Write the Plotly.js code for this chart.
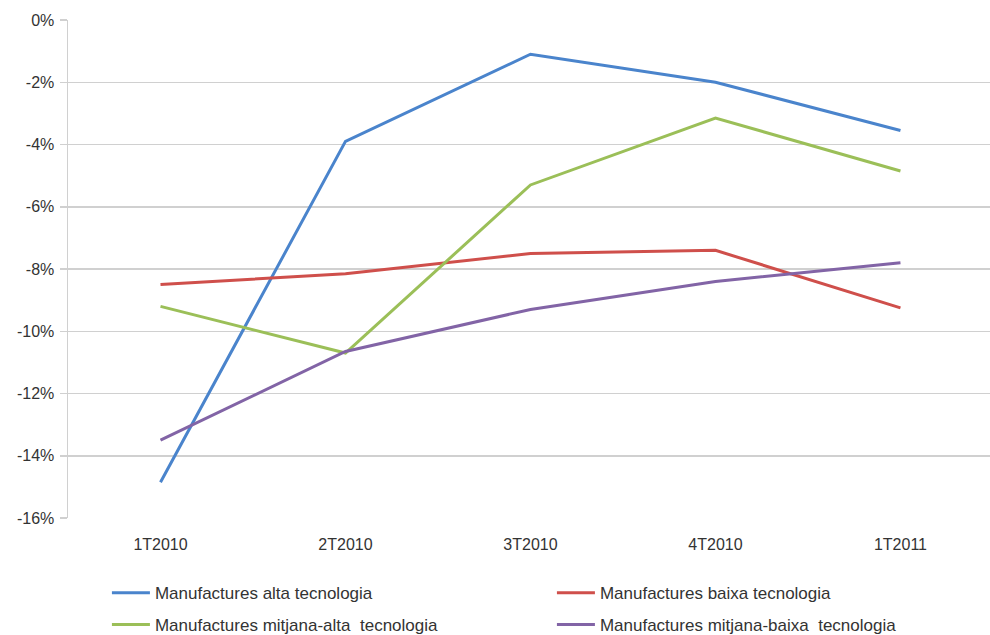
<!DOCTYPE html>
<html>
<head>
<meta charset="utf-8">
<script src="https://cdn.plot.ly/plotly-3.0.1.min.js"></script>
<style>
  html, body { margin: 0; padding: 0; background: #ffffff; }
  #chart { width: 990px; height: 635px; }
</style>
</head>
<body>
<div id="chart"></div>
<script>
// Quarterly change (%) by manufacturing technology level
const quarters = ['1T2010', '2T2010', '3T2010', '4T2010', '1T2011'];

const altaName = 'Manufactures alta tecnologia';
const baixaName = 'Manufactures baixa tecnologia';
const mitjanaAltaName = 'Manufactures mitjana-alta  tecnologia';
const mitjanaBaixaName = 'Manufactures mitjana-baixa  tecnologia';

const alta = [-14.85, -3.9, -1.1, -2.0, -3.55];
const baixa = [-8.5, -8.15, -7.5, -7.4, -9.25];
const mitjanaAlta = [-9.2, -10.7, -5.3, -3.15, -4.85];
const mitjanaBaixa = [-13.5, -10.65, -9.3, -8.4, -7.8];

const yTicks = [0, -2, -4, -6, -8, -10, -12, -14, -16];
const yTickText = yTicks.map(v => v + '%');

const fontFamily = '"Liberation Sans", Arial, sans-serif';
const textColor = '#333333';
const gridColor = '#d0d0d0';

function series(name, values, color, legendId) {
  return {
    type: 'scatter',
    mode: 'lines',
    name: name,
    x: quarters,
    y: values,
    line: { color: color, width: 3 },
    legend: legendId,
    hoverinfo: 'x+y+name'
  };
}

const traces = [
  series(altaName, alta, '#4a84cc', 'legend'),
  series(baixaName, baixa, '#cf4f4b', 'legend'),
  series(mitjanaAltaName, mitjanaAlta, '#9bbf58', 'legend2'),
  series(mitjanaBaixaName, mitjanaBaixa, '#8264a6', 'legend2')
];

// Two single-row legends laid out as a 2x2 grid under the plot
const legendStyle = {
  orientation: 'h',
  xref: 'container',
  yref: 'container',
  x: 0.108,
  xanchor: 'left',
  yanchor: 'middle',
  entrywidth: 392,
  entrywidthmode: 'pixels',
  itemwidth: 38,
  font: { family: fontFamily, size: 17, color: textColor },
  bgcolor: 'rgba(0,0,0,0)',
  itemclick: false,
  itemdoubleclick: false
};

const layout = {
  width: 990,
  height: 635,
  margin: { l: 68, r: 0, t: 20, b: 117 },
  paper_bgcolor: '#ffffff',
  plot_bgcolor: '#ffffff',
  font: { family: fontFamily, size: 16, color: textColor },
  showlegend: true,
  legend: Object.assign({}, legendStyle, { y: 0.066 }),
  legend2: Object.assign({}, legendStyle, { y: 0.016 }),
  xaxis: {
    type: 'category',
    range: [-0.5, 4.484],
    showgrid: false,
    zeroline: false,
    showline: false,
    ticks: '',
    ticklabelstandoff: 15,
    tickfont: { family: fontFamily, size: 16, color: textColor },
    fixedrange: true
  },
  xaxis2: {
    overlaying: 'x',
    anchor: 'y',
    side: 'top',
    type: 'linear',
    range: [-0.5, 4.484],
    tickvals: [0.5, 1.5, 2.5, 3.5],
    showticklabels: false,
    ticks: 'inside',
    ticklen: 6,
    tickwidth: 1.5,
    tickcolor: gridColor,
    showgrid: false,
    zeroline: false,
    showline: false,
    fixedrange: true
  },
  yaxis: {
    range: [-16, 0],
    tickvals: yTicks,
    ticktext: yTickText,
    showgrid: true,
    gridcolor: gridColor,
    gridwidth: 1.5,
    zeroline: false,
    showline: true,
    linecolor: gridColor,
    linewidth: 1.5,
    ticks: 'outside',
    ticklen: 7,
    tickwidth: 1.5,
    tickcolor: gridColor,
    ticklabelstandoff: 2,
    tickfont: { family: fontFamily, size: 16, color: textColor },
    fixedrange: true
  }
};

Plotly.newPlot('chart', traces, layout, { displayModeBar: false, staticPlot: true });
</script>
</body>
</html>
